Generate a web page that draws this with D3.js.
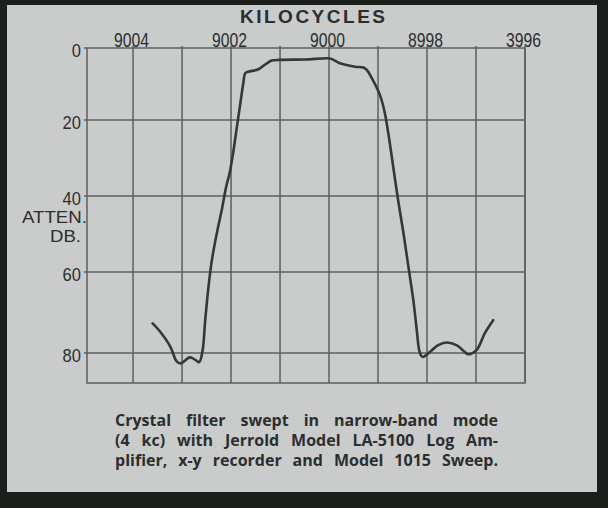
<!DOCTYPE html>
<html>
<head>
<meta charset="utf-8">
<script src="https://cdn.jsdelivr.net/npm/d3@7"></script>
<style>
  html, body { margin: 0; padding: 0; background: #1b1e1b; }
  svg { display: block; }
</style>
</head>
<body>
<script>
// Frequency grid (kc) and labelled ticks along the top
const freqGrid = [9004, 9003, 9002, 9001, 9000, 8999, 8998, 8997, 8996];
const freqTickValues = [9004, 9002, 9000, 8998, 8996];
const freqTickLabels = ["9004", "9002", "9000", "8998", "3996"];

// Attenuation grid (dB)
const attenTickValues = [0, 20, 40, 60, 80];
const attenTickLabels = ["0", "20", "40", "60", "80"];

// Swept response of the crystal filter: frequency (kc) and attenuation (dB)
const sweepKc = [
  9003.60, 9003.45, 9003.24, 9003.11, 9003.03, 9002.94, 9002.84, 9002.73, 9002.65,
  9002.58, 9002.53, 9002.46, 9002.39, 9002.29, 9002.19, 9002.10, 9002.03, 9001.97,
  9001.88, 9001.82, 9001.75, 9001.71, 9001.65, 9001.44, 9001.27, 9001.17, 9001.00,
  9000.49, 8999.98, 8999.91, 8999.78, 8999.64, 8999.47, 8999.30, 8999.23, 8999.13,
  8998.96, 8998.86, 8998.79, 8998.69, 8998.59, 8998.48, 8998.38, 8998.28, 8998.21,
  8998.16, 8998.12, 8998.08, 8997.90, 8997.78, 8997.60, 8997.39, 8997.27, 8997.16,
  8996.99, 8996.82, 8996.65
];
const sweepDb = [
  72.7, 74.7, 78.4, 82.1, 82.6, 81.9, 81.1, 81.7, 82.3,
  79.3, 72.3, 63.6, 56.8, 49.8, 43.7, 37.6, 34.0, 29.7,
  21.8, 16.3, 9.8, 7.0, 6.6, 5.9, 4.25, 3.5, 3.3,
  3.2, 2.9, 3.3, 4.25, 4.7, 5.2, 5.4, 6.1, 8.3,
  13.1, 18.1, 23.5, 32.3, 41.1, 49.8, 58.6, 66.9, 74.3,
  79.3, 80.7, 81.0, 79.3, 78.1, 77.4, 78.1, 79.3, 80.3,
  79.3, 75.1, 71.9
];

const captionLines = [
  "Crystal filter swept in narrow-band mode",
  "(4 kc) with Jerrold Model LA-5100 Log Am-",
  "plifier, x-y recorder and Model 1015 Sweep."
];

const W = 608, H = 508;
const ink = "#2c2e2e", gridInk = "#5c5f60", curveInk = "#353738";
const labelFont = "Liberation Sans, Arial, sans-serif";

const svg = d3.select("body").append("svg")
  .attr("width", W).attr("height", H);

// dark surround and the light paper
svg.append("rect").attr("width", W).attr("height", H).attr("fill", "#1b1e1b");
svg.append("rect").attr("x", 7).attr("y", 5).attr("width", 590).attr("height", 487)
  .attr("fill", "#c9cccb");

// the printed grid is slightly uneven vertically, so the dB scale is piecewise
const x = d3.scaleLinear().domain([9004.94, 8996]).range([87, 525]);
const y = d3.scaleLinear().domain([0, 20, 40, 60, 80, 87.5])
  .range([48, 120, 196, 272, 353, 383]);

const [y0, y1] = [y(0), y(87.5)];
const [x0, x1] = [x(9004.94), x(8996)];

const grid = svg.append("g")
  .attr("stroke", gridInk).attr("stroke-width", 1.5).attr("fill", "none");

grid.selectAll("line.v").data(freqGrid).join("line")
  .attr("class", "v")
  .attr("x1", d => x(d)).attr("x2", d => x(d))
  .attr("y1", y0 - 2).attr("y2", y1);

grid.selectAll("line.h").data(attenTickValues).join("line")
  .attr("class", "h")
  .attr("x1", x0 - 3).attr("x2", x1)
  .attr("y1", d => y(d)).attr("y2", d => y(d));

// frame
grid.append("path")
  .attr("d", `M${x0},${y0}V${y1}H${x1}V${y0}`);

// top frequency labels
const topAxis = d3.axisTop(x)
  .tickValues(freqTickValues)
  .tickFormat((d, i) => freqTickLabels[i])
  .tickSize(0).tickPadding(0);
const gTop = svg.append("g").attr("transform", `translate(-2,${y0 - 1.5})`).call(topAxis);
gTop.select(".domain").remove();
gTop.selectAll("text")
  .attr("fill", ink)
  .attr("font-family", labelFont)
  .attr("font-size", 19.5)
  .attr("textLength", 35).attr("lengthAdjust", "spacingAndGlyphs");

// left attenuation labels
const leftAxis = d3.axisLeft(y)
  .tickValues(attenTickValues)
  .tickFormat((d, i) => attenTickLabels[i])
  .tickSize(0).tickPadding(0);
const gLeft = svg.append("g").attr("transform", `translate(${x0 - 6},0)`).call(leftAxis);
gLeft.select(".domain").remove();
gLeft.selectAll("text")
  .attr("fill", ink)
  .attr("font-family", labelFont)
  .attr("font-size", 19)
  .attr("dy", "0.46em")
  .attr("textLength", (d, i) => attenTickLabels[i].length * 9.2)
  .attr("lengthAdjust", "spacingAndGlyphs");

// axis titles
svg.append("text")
  .attr("x", 240).attr("y", 23)
  .attr("fill", ink)
  .attr("font-family", labelFont)
  .attr("font-size", 19).attr("font-weight", "bold")
  .attr("textLength", 145).attr("lengthAdjust", "spacing")
  .text("KILOCYCLES");

svg.append("text")
  .attr("x", 22).attr("y", 223)
  .attr("fill", ink)
  .attr("font-family", labelFont)
  .attr("font-size", 17)
  .attr("textLength", 65).attr("lengthAdjust", "spacingAndGlyphs")
  .text("ATTEN.");

svg.append("text")
  .attr("x", 50).attr("y", 242)
  .attr("fill", ink)
  .attr("font-family", labelFont)
  .attr("font-size", 17)
  .attr("textLength", 31).attr("lengthAdjust", "spacingAndGlyphs")
  .text("DB.");

// response curve
const pts = sweepKc.map((f, i) => [f, sweepDb[i]]);
svg.append("path")
  .datum(pts)
  .attr("fill", "none")
  .attr("stroke", curveInk)
  .attr("stroke-width", 2.6)
  .attr("stroke-linejoin", "round")
  .attr("stroke-linecap", "round")
  .attr("d", d3.line()
    .x(d => x(d[0])).y(d => y(d[1]))
    .curve(d3.curveCatmullRom.alpha(0.5)));

// justified caption
const capLeft = 115, capRight = 498;
const cap = svg.append("g")
  .attr("fill", ink)
  .attr("font-family", "Open Sans, Liberation Sans, sans-serif")
  .attr("font-size", 16).attr("font-weight", 700);
captionLines.forEach((line, i) => {
  const t = cap.append("text")
    .attr("x", capLeft).attr("y", 426 + i * 20)
    .text(line);
  const natural = t.node().getComputedTextLength();
  const gaps = line.split(" ").length - 1;
  t.attr("word-spacing", (capRight - capLeft - natural) / gaps);
});
</script>
</body>
</html>
